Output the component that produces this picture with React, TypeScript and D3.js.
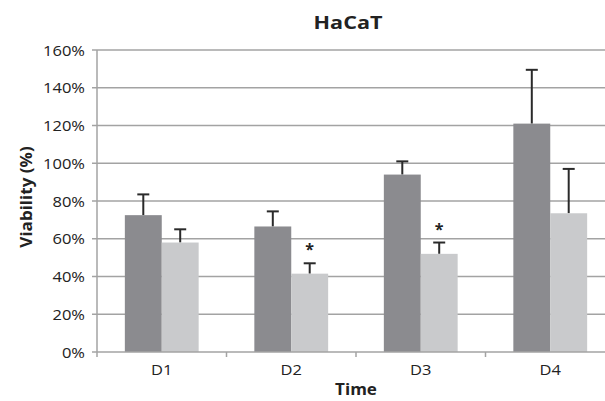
import React from 'react';
import * as d3 from 'd3';

const categories = ['D1', 'D2', 'D3', 'D4'];
const seriesNames = ['dark', 'light'];
const darkValues = [72.5, 66.5, 94, 121];
const darkErrors = [11, 8, 7, 28.5];
const lightValues = [58, 41.5, 52, 73.5];
const lightErrors = [7, 5.5, 6, 23.5];
const lightStars = [false, true, true, false];
const yTicks = [0, 20, 40, 60, 80, 100, 120, 140, 160];

const width = 605;
const height = 401;
const font = "'Open Sans', sans-serif";
const ink = '#222';

// the original looks a little stretched sideways, so text gets a small x-scale
function Label(props: { x: number; y: number; sx?: number; rotate?: number; anchor?: string; size: number; bold?: boolean; children: any }) {
  const { x, y, sx = 1.1, rotate = 0, anchor = 'middle', size, bold } = props;
  return (
    <text
      transform={`translate(${x},${y}) rotate(${rotate}) scale(${sx},1)`}
      textAnchor={anchor}
      fontFamily={font}
      fontWeight={bold ? 'bold' : 'normal'}
      fontSize={size}
      fill={ink}
    >
      {props.children}
    </text>
  );
}

export default function App() {
  const x = d3.scaleBand().domain(categories).range([97, 615]).paddingInner(0.43).paddingOuter(0.215);
  const xs = d3.scaleBand().domain(seriesNames).range([0, x.bandwidth()]);
  const y = d3.scaleLinear().domain([0, 160]).range([352, 50]);
  const step = x.step();

  const bars = categories.flatMap((c, i) => [
    { c, s: 'dark', v: darkValues[i], e: darkErrors[i], star: false, fill: '#8b8b8f' },
    { c, s: 'light', v: lightValues[i], e: lightErrors[i], star: lightStars[i], fill: '#c9cacc' },
  ]);

  return (
    <svg width={width} height={height} style={{ position: 'absolute', left: 0, top: 0, background: '#fff' }}>
      {/* grid + y ticks */}
      {yTicks.map(t => (
        <g key={t}>
          {t > 0 && <line x1={97} x2={615} y1={y(t)} y2={y(t)} stroke="#a3a3a3" strokeWidth={1.5} />}
          <line x1={92} x2={97} y1={y(t)} y2={y(t)} stroke="#a3a3a3" strokeWidth={1.5} />
          <Label x={85} y={y(t) + 5.5} anchor="end" size={15}>{t}%</Label>
        </g>
      ))}
      {/* bars with one-sided error bars */}
      {bars.map(b => {
        const bx = (x(b.c) as number) + (xs(b.s) as number);
        const cx = bx + xs.bandwidth() / 2;
        return (
          <g key={b.c + b.s}>
            <line x1={cx} x2={cx} y1={y(b.v)} y2={y(b.v + b.e)} stroke="#2a2a2a" strokeWidth={2} />
            <line x1={cx - 6} x2={cx + 6} y1={y(b.v + b.e)} y2={y(b.v + b.e)} stroke="#2a2a2a" strokeWidth={2} />
            <rect x={bx} y={y(b.v)} width={xs.bandwidth()} height={y(0) - y(b.v)} fill={b.fill} />
            {b.star && (
              <text x={cx} y={y(b.v + b.e) - 8} textAnchor="middle" fontFamily={font} fontWeight="bold" fontSize={16} fill={ink}>*</text>
            )}
          </g>
        );
      })}
      {/* axes */}
      <line x1={97} x2={97} y1={50} y2={352} stroke="#a3a3a3" strokeWidth={1.5} />
      <line x1={97} x2={615} y1={352} y2={352} stroke="#a3a3a3" strokeWidth={1.5} />
      {categories.map((c, i) => (
        <g key={c}>
          <line x1={97 + step * i} x2={97 + step * i} y1={352} y2={357} stroke="#a3a3a3" strokeWidth={1.5} />
          <Label x={(x(c) as number) + x.bandwidth() / 2} y={375} size={15}>{c}</Label>
        </g>
      ))}
      <Label x={348} y={29} size={18} sx={1.2} bold>HaCaT</Label>
      <Label x={356} y={395} size={15.5} bold>Time</Label>
      <Label x={32} y={197} rotate={-90} size={15.5} bold>Viability (%)</Label>
    </svg>
  );
}
